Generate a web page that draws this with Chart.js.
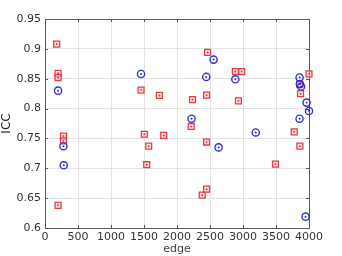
<!DOCTYPE html>
<html lang="en">
<head>
<meta charset="utf-8">
<title>ICC vs edge</title>
<script src="https://cdn.jsdelivr.net/npm/chart.js"></script>
<style>
  html, body { margin: 0; padding: 0; background: #fff; }
  #wrap { width: 342px; height: 256px; }
</style>
</head>
<body>
<div id="wrap"><canvas id="myChart"></canvas></div>
<script>
// red squares
var redEdge = [177, 198, 198, 198, 279, 279, 1455, 1505, 1571, 1541, 1733, 1799, 2215, 2235,
  2382, 2448, 2448, 2448, 2463, 2884, 2980, 2930, 3492, 3776, 3862, 3872, 3858, 4000];
var redIcc = [0.908, 0.859, 0.852, 0.638, 0.754, 0.746, 0.831, 0.757, 0.737, 0.706, 0.822, 0.755, 0.770, 0.815,
  0.655, 0.665, 0.8225, 0.744, 0.894, 0.862, 0.862, 0.813, 0.707, 0.761, 0.737, 0.825, 0.841, 0.858];

// blue circles
var blueEdge = [198, 279, 284, 1455, 2220, 2443, 2554, 2630, 2884, 3193, 3857, 3862, 3880, 3857, 3963, 4000, 3948];
var blueIcc = [0.830, 0.737, 0.705, 0.858, 0.783, 0.853, 0.882, 0.735, 0.849, 0.760, 0.852, 0.841, 0.837, 0.783, 0.810, 0.796, 0.619];

var xTicks = [0, 500, 1000, 1500, 2000, 2500, 3000, 3500, 4000];
var yTicks = [0.6, 0.65, 0.7, 0.75, 0.8, 0.85, 0.9, 0.95];

function pts(xs, ys) {
  return xs.map(function (x, i) { return { x: x, y: ys[i] }; });
}

var RED = 'rgb(226,62,72)';
var BLUE = 'rgb(48,48,215)';
var TXT = '#333';

// box around the plot and inward ticks, like MATLAB
var boxPlugin = {
  id: 'box',
  beforeDatasetsDraw: function (chart) {
    var ctx = chart.ctx, a = chart.chartArea;
    var xs = chart.scales.x, ys = chart.scales.y;
    ctx.save();
    ctx.strokeStyle = '#5a5a5a';
    ctx.lineWidth = 1;
    ctx.beginPath();
    ctx.rect(Math.round(a.left) + 0.5, Math.round(a.top) + 0.5,
      Math.round(a.right - a.left), Math.round(a.bottom - a.top));
    xTicks.forEach(function (v) {
      var p = Math.round(xs.getPixelForValue(v)) + 0.5;
      ctx.moveTo(p, a.bottom); ctx.lineTo(p, a.bottom - 3);
      ctx.moveTo(p, a.top); ctx.lineTo(p, a.top + 3);
    });
    yTicks.forEach(function (v) {
      var p = Math.round(ys.getPixelForValue(v)) + 0.5;
      ctx.moveTo(a.left, p); ctx.lineTo(a.left + 3, p);
      ctx.moveTo(a.right, p); ctx.lineTo(a.right - 3, p);
    });
    ctx.stroke();
    ctx.restore();
  }
};

new Chart('myChart', {
  type: 'scatter',
  data: {
    datasets: [
      {
        label: 'red',
        data: pts(redEdge, redIcc),
        order: 3,
        clip: false,
        pointStyle: 'rect',
        pointRadius: 4.2,
        borderWidth: 1.3,
        borderColor: RED,
        backgroundColor: 'rgba(255,205,205,0.6)'
      },
      {
        label: 'red dot',
        data: pts(redEdge, redIcc),
        order: 2,
        clip: false,
        pointRadius: 1,
        borderWidth: 0,
        backgroundColor: RED
      },
      {
        label: 'blue',
        data: pts(blueEdge, blueIcc),
        order: 1,
        clip: false,
        pointStyle: 'circle',
        pointRadius: 3.6,
        borderWidth: 1.4,
        borderColor: BLUE,
        backgroundColor: 'rgba(255,255,255,0)'
      },
      {
        label: 'blue dot',
        data: pts(blueEdge, blueIcc),
        order: 0,
        clip: false,
        pointRadius: 1,
        borderWidth: 0,
        backgroundColor: BLUE
      }
    ]
  },
  options: {
    responsive: true,
    maintainAspectRatio: false,
    animation: false,
    events: [],
    layout: { padding: { top: 19, right: 33, bottom: 0, left: 0 } },
    plugins: { legend: { display: false }, tooltip: { enabled: false } },
    scales: {
      x: {
        type: 'linear',
        min: 0, max: 4000,
        afterBuildTicks: function (s) { s.ticks = xTicks.map(function (v) { return { value: v }; }); },
        afterFit: function (s) { s.height = 28; },
        grid: { color: '#e4e4e4', drawTicks: false },
        border: { display: false },
        ticks: { padding: 3, color: TXT, font: { family: 'DejaVu Sans', size: 11 }, maxRotation: 0,
          callback: function (v) { return String(v); } },
        title: { display: true, text: 'edge', color: '#444', padding: { top: 1, bottom: 0 },
          font: { family: 'DejaVu Sans', size: 11 } }
      },
      y: {
        type: 'linear',
        min: 0.6, max: 0.95,
        afterBuildTicks: function (s) { s.ticks = yTicks.map(function (v) { return { value: v }; }); },
        afterFit: function (s) { s.width = 45; },
        grid: { color: '#e4e4e4', drawTicks: false },
        border: { display: false },
        ticks: { padding: 4, color: TXT, font: { family: 'DejaVu Sans', size: 11 },
          callback: function (v) { return String(Math.round(v * 100) / 100); } },
        title: { display: true, text: 'ICC', color: '#222', padding: { top: 0, bottom: 2 },
          font: { family: 'DejaVu Sans', size: 12 } }
      }
    }
  },
  plugins: [boxPlugin]
});
</script>
</body>
</html>
